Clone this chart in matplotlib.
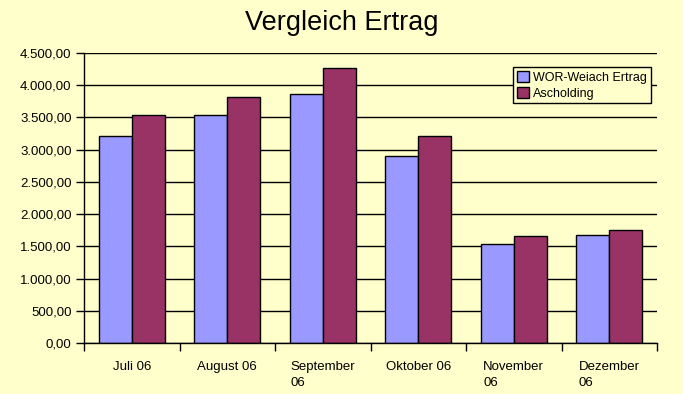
import matplotlib
matplotlib.use("Agg")
import matplotlib.pyplot as plt
import numpy as np
from matplotlib.ticker import FuncFormatter

categories = ["Juli 06", "August 06", "September\n06", "Oktober 06", "November\n06", "Dezember\n06"]
wor = [3210, 3540, 3865, 2900, 1535, 1675]
asch = [3540, 3820, 4270, 3210, 1660, 1755]
series_names = ["WOR-Weiach Ertrag", "Ascholding"]

plt.rcParams['font.family'] = ['Liberation Sans', 'DejaVu Sans']
bg = "#FFFFCC"
fig = plt.figure(figsize=(6.83, 3.94), dpi=100, facecolor=bg)
ax = fig.add_axes([84/683, 1-343/394, 573/683, 290/394])
ax.set_facecolor(bg)

x = np.arange(len(categories))
w = 0.345
ax.bar(x - w/2, wor, w, color="#9999FF", edgecolor="black", linewidth=1, label=series_names[0], zorder=3)
ax.bar(x + w/2, asch, w, color="#993366", edgecolor="black", linewidth=1, label=series_names[1], zorder=3)

ax.set_xlim(-0.5, len(categories) - 0.5)
ax.set_ylim(0, 4500)
ax.set_yticks(np.arange(0, 4501, 500))
def fmt(v, p):
    s = f"{v:,.2f}"
    return s.replace(",", "X").replace(".", ",").replace("X", ".")
ax.yaxis.set_major_formatter(FuncFormatter(fmt))
ax.yaxis.grid(True, color="black", linewidth=1, zorder=0)
ax.set_axisbelow(True)

ax.set_xticks(np.arange(-0.5, len(categories), 1))
ax.set_xticklabels([])
ax.set_xticks(x, minor=True)
ax.set_xticklabels(categories, minor=True, ha="center", fontsize=9.5)
for lbl in ax.get_xticklabels(minor=True):
    lbl.set_multialignment("left")
    lbl.set_linespacing(1.45)
ax.tick_params(axis="x", which="minor", length=0, pad=13)
ax.tick_params(axis="x", which="major", length=6, width=1, direction="out")
ax.tick_params(axis="y", length=6, width=1, direction="out", labelsize=9.5, pad=3)

for s in ["top", "right"]:
    ax.spines[s].set_visible(False)
for s in ["left", "bottom"]:
    ax.spines[s].set_linewidth(1)
    ax.spines[s].set_zorder(4)

fig.text(0.5, 1-23/394, "Vergleich Ertrag", ha="center", va="center", fontsize=19.5)

leg = ax.legend(loc="upper right", bbox_to_anchor=(0.989, 0.952), fontsize=9,
                frameon=True, fancybox=False, edgecolor="black", facecolor=bg,
                framealpha=1, handlelength=1.0, handleheight=1.0, handletextpad=0.3,
                borderpad=0.3, labelspacing=0.25, borderaxespad=0)
leg.get_frame().set_linewidth(1)
leg.set_zorder(5)

fig.savefig("out.png", dpi=100, facecolor=bg)
